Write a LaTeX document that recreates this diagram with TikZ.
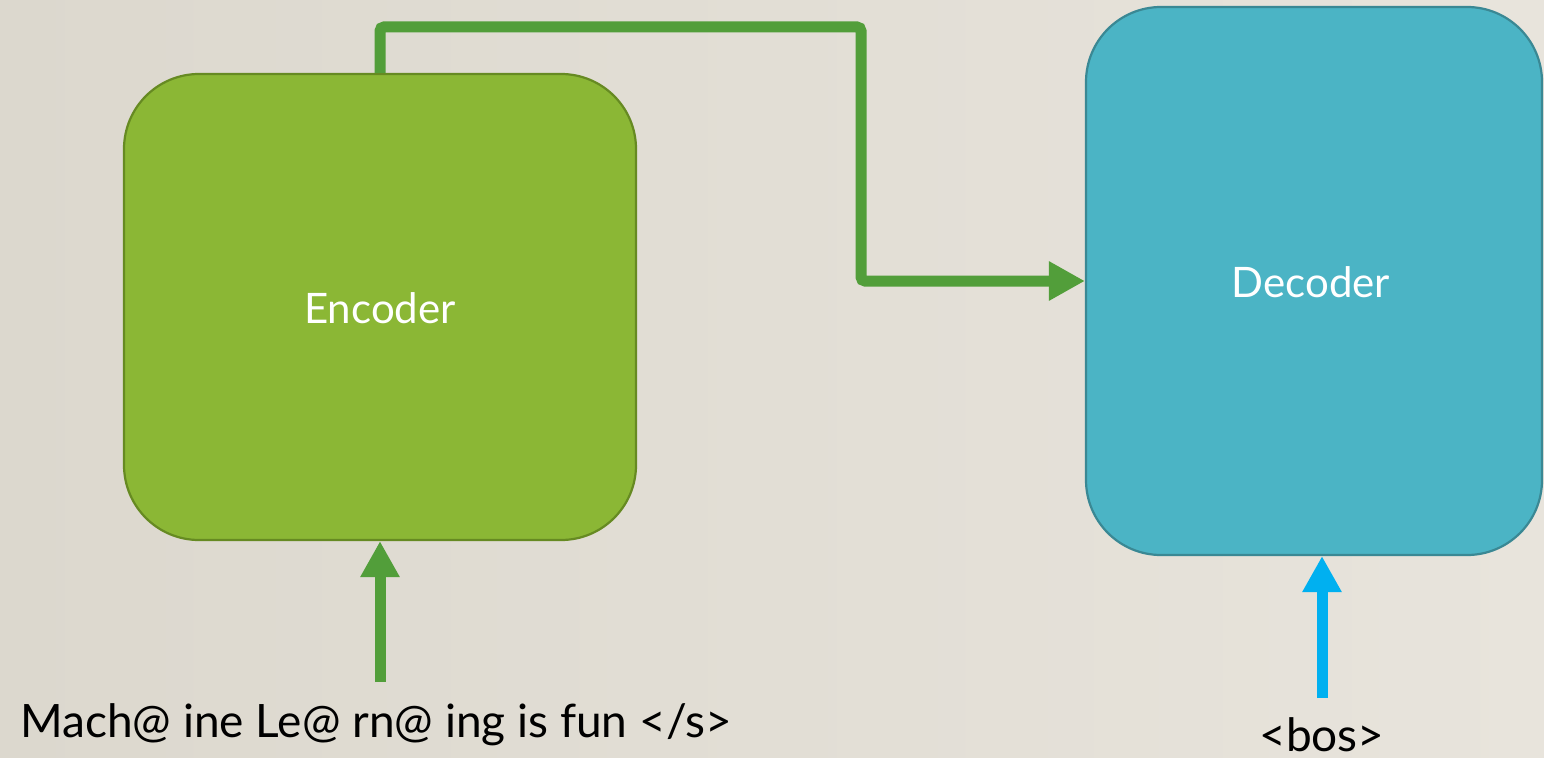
\documentclass[tikz,border=0pt]{standalone}
\usepackage{fontspec}
\setmainfont{Lato}
\usetikzlibrary{arrows.meta}
\definecolor{bgL}{HTML}{DCD8CE}
\definecolor{bgR}{HTML}{E8E4DC}
\definecolor{encfill}{HTML}{8BB735}
\definecolor{encline}{HTML}{668A22}
\definecolor{decfill}{HTML}{4BB4C5}
\definecolor{decline}{HTML}{3A8894}
\definecolor{conngreen}{HTML}{529E3A}
\definecolor{conncyan}{HTML}{00B0F0}
\tikzset{
  block/.style={draw, line width=2.2bp, rounded corners=75bp, inner sep=0pt},
  blocktext/.style={text=white, font=\fontsize{42bp}{48bp}\selectfont, anchor=base, inner sep=0pt},
  connector/.style={line width=11bp,
    -{Triangle[length=36bp,width=37bp]}},
  label/.style={inner sep=0pt, text=black, font=\fontsize{46bp}{52bp}\selectfont}
}
\begin{document}
\begin{tikzpicture}[x=1bp,y=-1bp]
\useasboundingbox (0,0) rectangle (1544,758);
\shade[left color=bgL, right color=bgR] (0,0) rectangle (1544,758);
\node[block, fill=encfill, draw=encline, minimum width=512bp, minimum height=466bp] (enc) at (380,307) {};
\node[blocktext] (enctxt) at (380,323) {Encoder};
\node[block, fill=decfill, draw=decline, minimum width=456bp, minimum height=548bp] (dec) at (1314,281) {};
\node[blocktext] (dectxt) at (1311,297) {Decoder};
\draw[connector, conngreen, rounded corners=4bp] (enc.north) |- (861,27) |- (dec.west);
\node[label, anchor=base west] (src) at (20,737) {Mach@ ine Le@ rn@ ing is fun </s>};
\node[label, anchor=base] (bos) at (1322,751) {<bos>};
\coordinate (ein) at (380,682);
\coordinate (din) at (1322,698);
\draw[connector, conngreen] (ein) -- (enc.south);
\draw[connector, conncyan] (din) -- (din |- dec.south);
\end{tikzpicture}
\end{document}
